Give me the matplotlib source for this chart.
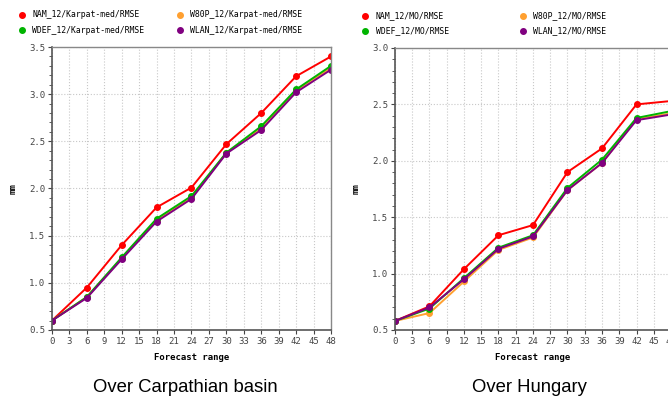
import matplotlib
matplotlib.use("Agg")
import matplotlib.pyplot as plt
from matplotlib.ticker import MultipleLocator

# forecast range (hours)
steps = [0, 6, 12, 18, 24, 30, 36, 42, 48]

# RMSE over Carpathian basin
carp_nam = [0.60, 0.95, 1.40, 1.80, 2.01, 2.47, 2.80, 3.19, 3.40]
carp_w80p = [0.60, 0.85, 1.26, 1.67, 1.90, 2.38, 2.64, 3.04, 3.28]
carp_wdef = [0.60, 0.85, 1.27, 1.68, 1.92, 2.38, 2.66, 3.05, 3.30]
carp_wlan = [0.60, 0.84, 1.25, 1.65, 1.89, 2.37, 2.62, 3.02, 3.26]

# RMSE over Hungary
hu_nam = [0.58, 0.71, 1.04, 1.34, 1.43, 1.90, 2.11, 2.50, 2.53]
hu_w80p = [0.58, 0.65, 0.93, 1.21, 1.32, 1.74, 1.98, 2.37, 2.42]
hu_wdef = [0.58, 0.69, 0.96, 1.23, 1.34, 1.76, 2.01, 2.38, 2.44]
hu_wlan = [0.58, 0.70, 0.95, 1.22, 1.33, 1.74, 1.98, 2.36, 2.41]

colors = {"NAM": "#ff0000", "W80P": "#ffa030", "WDEF": "#00b400", "WLAN": "#800080"}
mono = "DejaVu Sans Mono"

fig = plt.figure(figsize=(6.68, 3.97), dpi=100)


def draw_panel(ax, series, domain, ymax, colspace):
    for name, vals in series:
        ax.plot(steps, vals, color=colors[name], lw=1.4, marker="o", ms=4,
                label=f"{name}_12/{domain}/RMSE")
    ax.set_xlim(0, 48)
    ax.set_ylim(0.5, ymax)
    ax.xaxis.set_major_locator(MultipleLocator(3))
    ax.yaxis.set_major_locator(MultipleLocator(0.5))
    ax.yaxis.set_minor_locator(MultipleLocator(0.1))
    ax.yaxis.set_major_formatter(plt.FormatStrFormatter("%.1f"))
    ax.grid(True, which="major", color="#c8c8c8", ls=":", lw=0.8)
    ax.tick_params(which="major", length=3, width=0.8, labelsize=6.5,
                   colors="#444444", pad=2)
    ax.tick_params(which="minor", length=2, width=0.6, colors="#444444")
    for lbl in ax.get_xticklabels() + ax.get_yticklabels():
        lbl.set_family(mono)
    for side in ("left", "bottom"):
        ax.spines[side].set_color("#555555")
        ax.spines[side].set_linewidth(1.2)
    for side in ("top", "right"):
        ax.spines[side].set_color("#888888")
        ax.spines[side].set_linewidth(1.0)
    ax.set_xlabel("Forecast range", fontsize=6.5, family=mono,
                  fontweight="bold", labelpad=5)
    ax.set_ylabel("mm", fontsize=6.5, family=mono, fontweight="bold",
                  labelpad=8)
    handles, labels = ax.get_legend_handles_labels()
    order = [labels.index(f"{n}_12/{domain}/RMSE") for n in ("NAM", "WDEF", "W80P", "WLAN")]
    leg = ax.legend([handles[i] for i in order], [labels[i] for i in order],
                    ncol=2, frameon=False, loc="lower left",
                    bbox_to_anchor=(-0.135, 1.018), handlelength=0,
                    handletextpad=1.3, columnspacing=colspace, labelspacing=0.75,
                    prop={"family": mono, "size": 5.9})
    for h in leg.legend_handles:
        h.set_linestyle("none")


ax1 = fig.add_axes([0.0778, 0.1688, 0.4177, 0.7128])
draw_panel(ax1, [("NAM", carp_nam), ("W80P", carp_w80p), ("WDEF", carp_wdef),
                 ("WLAN", carp_wlan)], "Karpat-med", 3.5, 4.3)

ax2 = fig.add_axes([0.5913, 0.1688, 0.4132, 0.7103])
draw_panel(ax2, [("NAM", hu_nam), ("W80P", hu_w80p), ("WDEF", hu_wdef),
                 ("WLAN", hu_wlan)], "MO", 3.0, 9.0)

fig.text(0.277, 0.012, "Over Carpathian basin", ha="center", va="baseline",
         fontsize=13.3, family="Liberation Sans")
fig.text(0.793, 0.012, "Over Hungary", ha="center", va="baseline",
         fontsize=13.3, family="Liberation Sans")

fig.savefig("out.png", dpi=100)
